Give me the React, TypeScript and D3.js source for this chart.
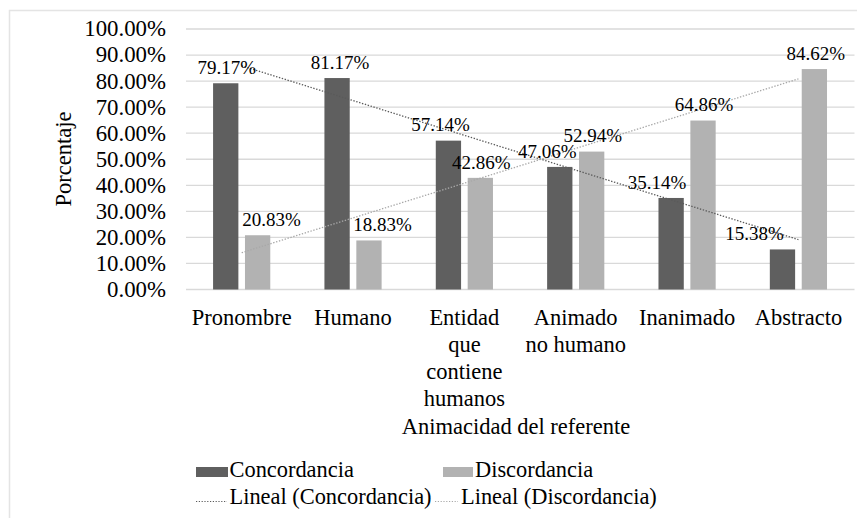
import React from "react";
import * as d3 from "d3";

const categories: string[][] = [
  ["Pronombre"],
  ["Humano"],
  ["Entidad", "que", "contiene", "humanos"],
  ["Animado", "no humano"],
  ["Inanimado"],
  ["Abstracto"],
];
const concordancia = [79.17, 81.17, 57.14, 47.06, 35.14, 15.38];
const discordancia = [20.83, 18.83, 42.86, 52.94, 64.86, 84.62];
const yTicks = [0, 10, 20, 30, 40, 50, 60, 70, 80, 90, 100];
const seriesNames = ["Concordancia", "Discordancia"];
const trendNames = ["Lineal (Concordancia)", "Lineal (Discordancia)"];

// label nudges (layout only)
const concLabelDx = [1, 3, -8, -12.5, -14, -28];
const discLabelDx = [14, 13.5, 1, 1, 1, 1.5];

const W = 857;
const H = 518;
const FONT = '"Liberation Serif", "Times New Roman", Tinos, "DejaVu Serif", serif';
const DARK = "#5f5f5f";
const LIGHT = "#b2b2b2";
const TREND_DARK = "#5a5a5a";
const TREND_LIGHT = "#a8a8a8";

function regression(vals: number[]) {
  const xs = vals.map((_, i) => i + 1);
  const mx = d3.mean(xs) as number;
  const my = d3.mean(vals) as number;
  let sxy = 0;
  let sxx = 0;
  xs.forEach((x, i) => {
    sxy += (x - mx) * (vals[i] - my);
    sxx += (x - mx) * (x - mx);
  });
  const b = sxy / sxx;
  const a = my - b * mx;
  return (x: number) => a + b * x;
}

export default function App() {
  const keys = categories.map((c) => c.join(" "));
  const x = d3.scaleBand<string>().domain(keys).range([186, 854.1]).paddingInner(0).paddingOuter(0);
  const inner = d3
    .scaleBand<string>()
    .domain(seriesNames)
    .range([0, x.bandwidth()])
    .paddingInner(0.207)
    .paddingOuter(0.849);
  const y = d3.scaleLinear().domain([0, 100]).range([289.5, 29]);

  const series = [
    { name: seriesNames[0], vals: concordancia, color: DARK, dx: concLabelDx, trend: TREND_DARK },
    { name: seriesNames[1], vals: discordancia, color: LIGHT, dx: discLabelDx, trend: TREND_LIGHT },
  ];

  const cx = (i: number) => (x(keys[i]) as number) + x.bandwidth() / 2;
  const txt = { fill: "#000", fontFamily: FONT } as const;

  return (
    <svg
      width={W}
      height={H}
      style={{ position: "fixed", left: 0, top: 0, background: "#fff", fontFamily: FONT }}
    >
      <rect x={0} y={0} width={W} height={H} fill="#fff" />
      <rect x={9.5} y={10.5} width={W + 20} height={H + 20} fill="none" stroke="#e4e4e4" strokeWidth={1.5} />

      {/* gridlines */}
      {yTicks.map((t) => (
        <line key={t} x1={186} x2={854.5} y1={y(t)} y2={y(t)} stroke="#d9d9d9" strokeWidth={1.3} />
      ))}

      {/* y tick labels */}
      {yTicks.map((t) => (
        <text key={t} x={166} y={y(t) + 7.4} textAnchor="end" fontSize={22.8} style={txt}>
          {t.toFixed(2) + "%"}
        </text>
      ))}

      {/* bars */}
      {series.map((s) =>
        s.vals.map((v, i) => (
          <rect
            key={s.name + i}
            x={(x(keys[i]) as number) + (inner(s.name) as number)}
            y={y(v)}
            width={inner.bandwidth()}
            height={y(0) - y(v)}
            fill={s.color}
          />
        ))
      )}

      {/* trendlines */}
      {series.map((s) => {
        const f = regression(s.vals);
        const pts = [0, s.vals.length - 1];
        const path = d3
          .line<number>()
          .x((d) => cx(d))
          .y((d) => y(f(d + 1)))(pts);
        return (
          <path
            key={"t" + s.name}
            d={path as string}
            fill="none"
            stroke={s.trend}
            strokeWidth={1.3}
            strokeDasharray="1.4 1.6"
          />
        );
      })}

      {/* data labels */}
      {series.map((s) =>
        s.vals.map((v, i) => (
          <text
            key={"l" + s.name + i}
            x={(x(keys[i]) as number) + (inner(s.name) as number) + inner.bandwidth() / 2 + s.dx[i]}
            y={y(v) - 9.3}
            textAnchor="middle"
            fontSize={19}
            style={txt}
          >
            {v.toFixed(2) + "%"}
          </text>
        ))
      )}

      {/* category labels */}
      {categories.map((lines, i) => (
        <text key={"c" + i} x={cx(i)} y={325} textAnchor="middle" fontSize={22.5} style={txt}>
          {lines.map((ln, j) => (
            <tspan key={j} x={cx(i)} dy={j === 0 ? 0 : 26.9}>
              {ln}
            </tspan>
          ))}
        </text>
      ))}

      {/* axis titles */}
      <text x={516} y={434.3} textAnchor="middle" fontSize={22.5} style={txt}>
        Animacidad del referente
      </text>
      <text transform="translate(70.5,159) rotate(-90)" textAnchor="middle" fontSize={22.5} style={txt}>
        Porcentaje
      </text>

      {/* legend */}
      <rect x={196} y={467} width={32} height={10} fill={DARK} />
      <text x={229.5} y={477} fontSize={22.4} style={txt}>{seriesNames[0]}</text>
      <rect x={443} y={467} width={30} height={10} fill={LIGHT} />
      <text x={475} y={477} fontSize={22.4} style={txt}>{seriesNames[1]}</text>

      <line x1={196} x2={227} y1={501.5} y2={501.5} stroke={TREND_DARK} strokeWidth={1.2} strokeDasharray="1.2 1.6" />
      <text x={229.5} y={504} fontSize={22.4} style={txt}>{trendNames[0]}</text>
      <line x1={435} x2={458} y1={501.5} y2={501.5} stroke={TREND_LIGHT} strokeWidth={1.2} strokeDasharray="1.2 1.6" />
      <text x={461} y={504} fontSize={22.4} style={txt}>{trendNames[1]}</text>
    </svg>
  );
}
